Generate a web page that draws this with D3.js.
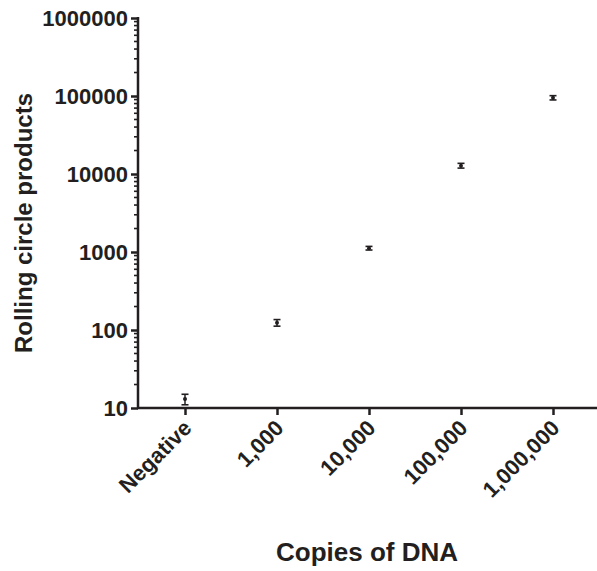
<!DOCTYPE html>
<html><head><meta charset="utf-8">
<script src="https://cdn.jsdelivr.net/npm/d3@7"></script>
<style>body{margin:0;background:#fff}svg{display:block}text{font-family:"Liberation Sans",Arial,sans-serif;font-weight:bold;fill:#231f20}</style>
</head><body>
<script>
const categories = ["Negative", "1,000", "10,000", "100,000", "1,000,000"];
const means = [13, 124, 1120, 12800, 95000];
const errors = [2, 12, 60, 900, 6000];
const yTicks = [10, 100, 1000, 10000, 100000, 1000000];

const W = 597, H = 571;
const svg = d3.select("body").append("svg").attr("width", W).attr("height", H);
const x = d3.scalePoint().domain(categories).range([185, 553]);
const y = d3.scaleLog().domain([10, 1000000]).range([408, 18]);
const ink = "#231f20";
const FF = '"Liberation Sans",Arial,sans-serif';

// minor ticks
const minor = [];
for (let d = 10; d < 1000000; d *= 10) for (let k = 2; k <= 9; k++) minor.push(d * k);
svg.append("g").selectAll("line").data(minor).join("line")
  .attr("x1", 134).attr("x2", 138).attr("y1", d => y(d)).attr("y2", d => y(d))
  .attr("stroke", ink).attr("stroke-width", 1.6);

const yAxis = svg.append("g").attr("transform", "translate(138,0)")
  .call(d3.axisLeft(y).tickValues(yTicks).tickFormat(d3.format("d")).tickSize(7).tickPadding(3));
yAxis.select(".domain").attr("stroke", ink).attr("stroke-width", 2.5).attr("d", "M0,17V409");
yAxis.selectAll(".tick line").attr("stroke", ink).attr("stroke-width", 2.5);
yAxis.selectAll(".tick text").style("font-size", "22px").style("font-family", FF).style("font-weight", "bold").attr("fill", ink).attr("dy", "0.35em");

const xAxis = svg.append("g").attr("transform", "translate(0,408)")
  .call(d3.axisBottom(x).tickSize(7).tickPadding(6));
xAxis.select(".domain").attr("stroke", ink).attr("stroke-width", 2.5).attr("d", "M137,0H597");
xAxis.selectAll(".tick line").attr("stroke", ink).attr("stroke-width", 2.5);
xAxis.selectAll(".tick text").style("font-size", "22px").style("font-family", FF).style("font-weight", "bold").attr("fill", ink)
  .attr("text-anchor", "end").attr("transform", "translate(2,16) rotate(-45)").attr("dy", "0.35em").attr("y", 0).attr("x", 0);

// error bars
const g = svg.append("g");
categories.forEach((c, i) => {
  const cx = x(c), lo = y(means[i] - errors[i]), hi = y(means[i] + errors[i]);
  g.append("line").attr("x1", cx).attr("x2", cx).attr("y1", lo).attr("y2", hi).attr("stroke", ink).attr("stroke-width", 1.5);
  [lo, hi].forEach(v => g.append("line").attr("x1", cx - 3.5).attr("x2", cx + 3.5).attr("y1", v).attr("y2", v).attr("stroke", ink).attr("stroke-width", 1.6));
  g.append("circle").attr("cx", cx).attr("cy", y(means[i])).attr("r", 2).attr("fill", ink);
});

svg.append("text").attr("transform", "translate(32,223) rotate(-90)").attr("text-anchor", "middle").style("font-size", "24px").text("Rolling circle products");
svg.append("text").attr("x", 367).attr("y", 561).attr("text-anchor", "middle").style("font-size", "26px").text("Copies of DNA");
</script>
</body></html>
